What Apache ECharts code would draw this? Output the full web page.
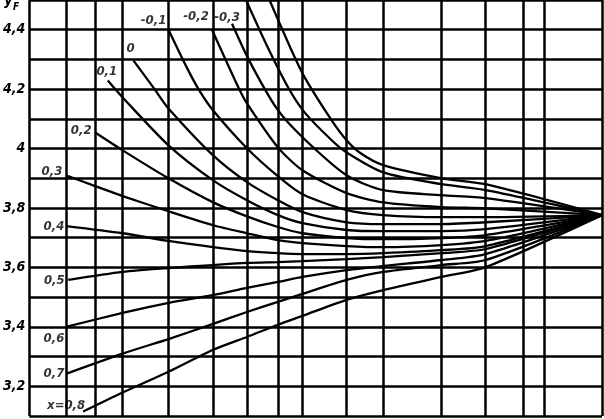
<!DOCTYPE html>
<html>
<head>
<meta charset="utf-8">
<script src="https://cdn.jsdelivr.net/npm/echarts@6/dist/echarts.min.js"></script>
<style>
html,body{margin:0;padding:0;background:#fff;}
#c{width:604px;height:419px;}
</style>
</head>
<body>
<div id="c"></div>
<script>
// Horizontal axis: relative 1/z scale (0 = left edge, 100 = z -> infinity); unlabeled in the original
const xGridLines = [0, 6.4, 11.6, 16.3, 24.3, 32.1, 38.0, 43.4, 47.7, 55.4, 61.8, 72.0, 79.7, 86.3, 89.9, 100];
// Y_F axis labels
const yLabelValues = [3.2, 3.4, 3.6, 3.8, 4.0, 4.2, 4.4];

// Curves of Y_F for profile shift coefficient x
const cM5_u = [41.6, 45.8, 48.1, 52.8, 55.4, 57.8, 61.8, 72.0, 79.7, 100];
const cM5_y = [4.515, 4.330, 4.239, 4.095, 4.028, 3.985, 3.944, 3.900, 3.880, 3.776];
const cM4_u = [37.6, 41.5, 45.3, 48.1, 52.8, 55.4, 61.8, 72.0, 79.7, 100];
const cM4_y = [4.51, 4.346, 4.202, 4.121, 4.028, 3.987, 3.920, 3.880, 3.860, 3.776];
const cM3_u = [35.4, 38.4, 43.2, 47.7, 55.4, 61.8, 72.0, 79.7, 100];
const cM3_y = [4.420, 4.296, 4.135, 4.038, 3.910, 3.860, 3.843, 3.833, 3.776];
const cM2_u = [31.9, 36.6, 38.0, 43.4, 47.7, 55.4, 61.8, 72.0, 79.7, 100];
const cM2_y = [4.400, 4.202, 4.152, 4.004, 3.927, 3.850, 3.819, 3.803, 3.799, 3.776];
const cM1_u = [24.3, 27.6, 29.7, 32.1, 38.0, 43.4, 47.7, 55.4, 61.8, 72.0, 79.7, 100];
const cM1_y = [4.400, 4.269, 4.195, 4.128, 4.001, 3.907, 3.846, 3.793, 3.776, 3.769, 3.769, 3.776];
const c00_u = [18.2, 21.9, 24.3, 32.1, 38.0, 43.4, 47.7, 55.4, 61.8, 72.0, 79.7, 100];
const c00_y = [4.296, 4.199, 4.135, 3.977, 3.887, 3.826, 3.786, 3.752, 3.746, 3.746, 3.752, 3.776];
const c01_u = [13.7, 16.3, 24.3, 32.1, 38.0, 43.4, 47.7, 55.4, 61.8, 72.0, 79.7, 100];
const c01_y = [4.229, 4.172, 4.011, 3.893, 3.826, 3.776, 3.749, 3.726, 3.722, 3.722, 3.729, 3.776];
const c02_u = [11.5, 16.3, 24.3, 32.1, 38.0, 43.4, 47.7, 55.4, 61.8, 72.0, 79.7, 100];
const c02_y = [4.054, 3.994, 3.900, 3.819, 3.772, 3.736, 3.715, 3.699, 3.695, 3.699, 3.709, 3.776];
const c03_u = [6.4, 11.6, 16.3, 24.3, 32.1, 38.0, 43.4, 47.7, 55.4, 61.8, 72.0, 79.7, 100];
const c03_y = [3.910, 3.873, 3.840, 3.789, 3.742, 3.715, 3.692, 3.682, 3.672, 3.668, 3.675, 3.689, 3.776];
const c04_u = [6.4, 16.3, 24.3, 32.1, 38.0, 43.4, 47.7, 55.4, 61.8, 72.0, 79.7, 100];
const c04_y = [3.739, 3.715, 3.689, 3.668, 3.655, 3.648, 3.645, 3.645, 3.648, 3.658, 3.672, 3.776];
const c05_u = [6.8, 16.3, 24.3, 32.1, 38.0, 43.4, 47.7, 55.4, 61.8, 72.0, 79.7, 100];
const c05_y = [3.558, 3.585, 3.598, 3.608, 3.615, 3.618, 3.621, 3.628, 3.635, 3.648, 3.662, 3.776];
const c06_u = [6.4, 16.3, 24.3, 32.1, 38.0, 43.4, 47.7, 55.4, 61.8, 72.0, 79.7, 100];
const c06_y = [3.400, 3.447, 3.481, 3.507, 3.531, 3.551, 3.568, 3.591, 3.605, 3.625, 3.645, 3.776];
const c07_u = [6.4, 16.3, 24.3, 32.1, 38.0, 43.4, 47.7, 55.4, 61.8, 72.0, 79.7, 100];
const c07_y = [3.242, 3.310, 3.359, 3.410, 3.450, 3.484, 3.511, 3.558, 3.585, 3.608, 3.625, 3.776];
const c08_u = [9.4, 16.3, 24.3, 32.1, 38.0, 43.4, 47.7, 55.4, 61.8, 72.0, 79.7, 100];
const c08_y = [3.115, 3.179, 3.249, 3.323, 3.366, 3.407, 3.437, 3.491, 3.524, 3.568, 3.601, 3.776];

const curveNames = ['-0,5', '-0,4', '-0,3', '-0,2', '-0,1', '0', '0,1', '0,2', '0,3', '0,4', '0,5', '0,6', '0,7', 'x=0,8'];
const curveU = [cM5_u, cM4_u, cM3_u, cM2_u, cM1_u, c00_u, c01_u, c02_u, c03_u, c04_u, c05_u, c06_u, c07_u, c08_u];
const curveY = [cM5_y, cM4_y, cM3_y, cM2_y, cM1_y, c00_y, c01_y, c02_y, c03_y, c04_y, c05_y, c06_y, c07_y, c08_y];
const curveLabelShown = [false, false, true, true, true, true, true, true, true, true, true, true, true, true];

// label offsets (pixels) from each curve's first point
const labelOffsets = [[0,0],[0,0],[-5,-6],[-16,-13],[-15,-9],[-3,-12],[-1,-9],[-14,-2],[-14,-4],[-12,0],[-14,1],[-12,12],[-12,0],[-17,-6]];

const FONT = '"Liberation Sans Narrow","DejaVu Sans Condensed","Liberation Sans",sans-serif';

const series = [];
curveU.forEach((us, i) => {
  series.push({
    type: 'line',
    name: curveNames[i],
    data: us.map((u, k) => [u, curveY[i][k]]),
    showSymbol: false,
    symbol: 'none',
    smooth: 0.25,
    lineStyle: {color: '#000', width: 2.3},
    silent: true,
    animation: false,
    z: 3
  });
});

// vertical grid lines
series.push({
  type: 'line',
  data: [],
  silent: true,
  animation: false,
  markLine: {
    symbol: 'none',
    silent: true,
    animation: false,
    label: {show: false},
    lineStyle: {color: '#000', width: 2.5, type: 'solid'},
    data: xGridLines.map(v => ({xAxis: v}))
  }
});

// curve labels
series.push({
  type: 'scatter',
  symbol: 'circle',
  symbolSize: 0.1,
  itemStyle: {color: 'rgba(0,0,0,0)'},
  silent: true,
  animation: false,
  z: 5,
  data: curveU.map((us, i) => ({
    value: [us[0], curveY[i][0]],
    name: curveNames[i],
    label: {
      show: curveLabelShown[i],
      position: 'inside',
      offset: labelOffsets[i],
      formatter: curveNames[i],
      fontFamily: FONT,
      fontStyle: 'italic',
      fontWeight: 'bold',
      fontSize: 13,
      color: '#000',
      align: 'center',
      verticalAlign: 'middle'
    }
  }))
});

const chart = echarts.init(document.getElementById('c'), null, {renderer: 'canvas'});
chart.setOption({
  animation: false,
  backgroundColor: '#fff',
  grid: {left: 26, right: 2, top: -1, bottom: 3, containLabel: false},
  xAxis: {
    type: 'value', min: 0, max: 100,
    axisLine: {show: false}, axisTick: {show: false}, axisLabel: {show: false},
    splitLine: {show: false}
  },
  yAxis: {
    type: 'value', min: 3.1, max: 4.5, interval: 0.1,
    axisLine: {show: false}, axisTick: {show: false},
    splitLine: {show: true, lineStyle: {color: '#000', width: 2.5}},
    axisLabel: {
      margin: 4,
      fontFamily: FONT, fontStyle: 'italic', fontWeight: 'bold', fontSize: 14, color: '#000',
      formatter: v => {
        const r = Math.round(v * 10) / 10;
        if (!yLabelValues.some(t => Math.abs(t - r) < 1e-6)) return '';
        return String(r).replace('.', ',');
      }
    }
  },
  graphic: [
    {type: 'text', left: 4, top: -6, style: {text: 'y', font: 'italic bold 15px ' + FONT, fill: '#000'}},
    {type: 'text', left: 13, top: 2, style: {text: 'F', font: 'italic bold 10px ' + FONT, fill: '#000'}}
  ],
  series: series
});
</script>
</body>
</html>
